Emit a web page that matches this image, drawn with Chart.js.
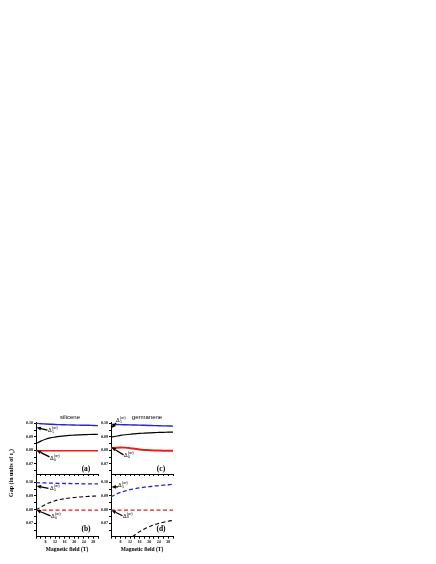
<!DOCTYPE html>
<html lang="en">
<head>
<meta charset="UTF-8" />
<title>Gap vs magnetic field</title>
<style>
  body { margin: 0; background: #fff; }
  #wrap { position: relative; width: 436px; height: 564px; overflow: hidden; }
  canvas { position: absolute; left: 0; top: 0; }
  .t { position: absolute; white-space: nowrap; transform: translate(-50%, -50%); color: #000; }
  .serif { font-family: "Liberation Serif", serif; font-weight: bold; }
  .sans { font-family: "Liberation Sans", Arial, sans-serif; }
  .dl { position: absolute; font-family: "Liberation Sans", sans-serif; font-size: 5.5px; line-height: 5.5px; white-space: nowrap; transform: translateY(-50%); }
  .dl .ss { display: inline-block; vertical-align: middle; font-size: 3.6px; line-height: 3.9px; margin-left: 0.3px; }
  .dl .ss span { display: block; }
</style>
</head>
<body>
<div id="wrap">
  <canvas id="pa" width="436" height="564"></canvas>
  <canvas id="pb" width="436" height="564"></canvas>
  <canvas id="pc" width="436" height="564"></canvas>
  <canvas id="pd" width="436" height="564"></canvas>

  <div class="t sans" style="left:70px;top:417px;font-size:6px">silicene</div>
  <div class="t sans" style="left:147px;top:417px;font-size:6px">germanene</div>

  <div class="t serif" style="left:12px;top:473px;font-size:6px;transform:translate(-50%,-50%) rotate(-90deg)">Gap (in units of &epsilon;<sub style="font-size:4px">c</sub>)</div>
  <div class="t serif" style="left:67px;top:548.5px;font-size:5.5px">Magnetic field (T)</div>
  <div class="t serif" style="left:142px;top:548.5px;font-size:5.5px">Magnetic field (T)</div>

  <div class="t serif" style="left:86px;top:468px;font-size:7.5px">(a)</div>
  <div class="t serif" style="left:161px;top:468px;font-size:7.5px">(c)</div>
  <div class="t serif" style="left:86px;top:528px;font-size:7.5px">(b)</div>
  <div class="t serif" style="left:161px;top:528px;font-size:7.5px">(d)</div>

  <div class="dl" style="left:48px;top:431px">&Delta;<span class="ss"><span>(&sigma;r)</span><span>1</span></span></div>
  <div class="dl" style="left:50px;top:459px">&Delta;<span class="ss"><span>(&sigma;r)</span><span>0</span></span></div>
  <div class="dl" style="left:116px;top:421px">&Delta;<span class="ss"><span>(&sigma;r)</span><span>1</span></span></div>
  <div class="dl" style="left:124px;top:456px">&Delta;<span class="ss"><span>(&sigma;r)</span><span>0</span></span></div>
  <div class="dl" style="left:50px;top:489px">&Delta;<span class="ss"><span>(&sigma;r)</span><span>1</span></span></div>
  <div class="dl" style="left:51px;top:517px">&Delta;<span class="ss"><span>(&sigma;r)</span><span>0</span></span></div>
  <div class="dl" style="left:118px;top:486px">&Delta;<span class="ss"><span>(&sigma;r)</span><span>1</span></span></div>
  <div class="dl" style="left:123px;top:516.5px">&Delta;<span class="ss"><span>(&sigma;r)</span><span>0</span></span></div>
</div>

<script src="https://cdn.jsdelivr.net/npm/chart.js"></script>
<script>
  // magnetic field (T)
  const field = [4, 6, 8, 10, 12, 14, 16, 18, 20, 22, 24, 26, 28, 30];
  const fieldTail = [13, 14, 16, 18, 20, 22, 24, 26, 28, 30];

  // (a) silicene, solid
  const siBlue = [0.1000, 0.0997, 0.0995, 0.0993, 0.0991, 0.0990, 0.0989, 0.0988, 0.0987, 0.0986, 0.0985, 0.0985, 0.0984, 0.0983];
  const siBlack = [0.0850, 0.0868, 0.0882, 0.0892, 0.0898, 0.0903, 0.0907, 0.0910, 0.0912, 0.0914, 0.0916, 0.0917, 0.0918, 0.0919];
  const siRed = [0.0797, 0.0797, 0.0797, 0.0797, 0.0797, 0.0797, 0.0797, 0.0797, 0.0797, 0.0797, 0.0797, 0.0797, 0.0797, 0.0797];

  // (b) silicene, dashed
  const siBlueD = [0.0997, 0.0996, 0.0995, 0.0994, 0.0993, 0.0992, 0.0991, 0.0991, 0.0990, 0.0990, 0.0989, 0.0989, 0.0988, 0.0988];
  const siBlackD = [0.0800, 0.0818, 0.0838, 0.0853, 0.0865, 0.0874, 0.0880, 0.0885, 0.0889, 0.0892, 0.0895, 0.0897, 0.0899, 0.0900];
  const siRedD = [0.0797, 0.0797, 0.0797, 0.0797, 0.0797, 0.0797, 0.0797, 0.0797, 0.0797, 0.0797, 0.0797, 0.0797, 0.0797, 0.0797];

  // (c) germanene, solid
  const geBlue = [0.0992, 0.0991, 0.0990, 0.0989, 0.0988, 0.0987, 0.0986, 0.0985, 0.0984, 0.0983, 0.0982, 0.0981, 0.0980, 0.0979];
  const geBlack = [0.0898, 0.0904, 0.0910, 0.0915, 0.0919, 0.0922, 0.0925, 0.0927, 0.0929, 0.0931, 0.0932, 0.0933, 0.0934, 0.0935];
  const geRed = [0.0816, 0.0819, 0.0821, 0.0820, 0.0816, 0.0811, 0.0806, 0.0803, 0.0801, 0.0799, 0.0798, 0.0797, 0.0796, 0.0796];

  // (d) germanene, dashed
  const geBlueD = [0.0893, 0.0912, 0.0926, 0.0937, 0.0946, 0.0953, 0.0959, 0.0964, 0.0968, 0.0972, 0.0976, 0.0979, 0.0982, 0.0985];
  const geRedD = [0.0797, 0.0797, 0.0797, 0.0797, 0.0797, 0.0797, 0.0797, 0.0797, 0.0797, 0.0797, 0.0797, 0.0797, 0.0797, 0.0797];
  const geBlackD = [0.0603, 0.0615, 0.0640, 0.0660, 0.0676, 0.0690, 0.0700, 0.0709, 0.0716, 0.0722];

  // gap levels the arrows point at
  const deltaOneLevels = [0.0968, 0.0965, 0.0973, 0.0966];  // a, c, b, d
  const deltaZeroLevels = [0.0800, 0.0822, 0.0798, 0.0796];

  const xTicks = [4, 6, 8, 10, 12, 14, 16, 18, 20, 22, 24, 26, 28, 30];
  const xLabels = [8, 12, 16, 20, 24, 28];
  const yTicks = [0.065, 0.07, 0.075, 0.08, 0.085, 0.09, 0.095, 0.10];
  const yLabels = [0.07, 0.08, 0.09, 0.10];

  const BLUE = "#2424d8";
  const RED = "#ee1c1c";
  const BLACK = "#000000";

  const arrowPlugin = {
    id: "arrows",
    afterDatasetsDraw(chart, args, opts) {
      const ctx = chart.ctx;
      const ys = chart.scales.y;
      const x0 = chart.chartArea.left + 0.5;
      (opts.marks || []).forEach((m) => {
        const hx = x0, hy = ys.getPixelForValue(m.value);
        const tx = hx + m.dx, ty = hy + m.dy;
        const ang = Math.atan2(hy - ty, hx - tx);
        const len = 4.5, w = 1.9;
        const bx = hx - len * Math.cos(ang), by = hy - len * Math.sin(ang);
        ctx.save();
        ctx.strokeStyle = "#000";
        ctx.fillStyle = "#000";
        ctx.lineWidth = 1.3;
        ctx.beginPath();
        ctx.moveTo(tx, ty);
        ctx.lineTo(bx, by);
        ctx.stroke();
        ctx.beginPath();
        ctx.moveTo(hx, hy);
        ctx.lineTo(bx + w * Math.sin(ang), by - w * Math.cos(ang));
        ctx.lineTo(bx - w * Math.sin(ang), by + w * Math.cos(ang));
        ctx.closePath();
        ctx.fill();
        ctx.restore();
      });
    },
  };

  function line(xs, ys, color, dashed, width) {
    return {
      data: xs.map((x, i) => ({ x: x, y: ys[i] })),
      borderColor: color,
      borderWidth: width || 1.2,
      borderDash: dashed ? [4, 2.5] : [],
      pointRadius: 0,
      fill: false,
      cubicInterpolationMode: "monotone",
    };
  }

  function makePanel(id, area, yMin, yMax, datasets, bottomRow, marks) {
    const yw = 13;
    const xh = bottomRow ? 9 : 2;
    new Chart(document.getElementById(id), {
      type: "line",
      data: { datasets: datasets },
      plugins: [arrowPlugin],
      options: {
        responsive: false,
        animation: false,
        layout: {
          padding: {
            left: area.left - yw,
            right: 436 - area.right,
            top: area.top,
            bottom: 564 - area.bottom - xh,
          },
        },
        plugins: {
          legend: { display: false },
          tooltip: { enabled: false },
          arrows: { marks: marks },
        },
        scales: {
          x: {
            type: "linear",
            min: 4,
            max: 30,
            afterBuildTicks: (s) => { s.ticks = xTicks.map((v) => ({ value: v })); },
            afterFit: (s) => { s.height = xh; },
            border: { color: "#000", width: 1 },
            grid: { drawOnChartArea: false, tickLength: 2, color: "#000" },
            ticks: {
              display: bottomRow,
              autoSkip: false,
              maxRotation: 0,
              padding: 0.5,
              color: "#000",
              font: { family: "Liberation Serif", size: 4, weight: "bold" },
              callback: (v) => (xLabels.includes(v) ? String(v) : ""),
            },
          },
          y: {
            min: yMin,
            max: yMax,
            afterBuildTicks: (s) => { s.ticks = yTicks.map((v) => ({ value: v })); },
            afterFit: (s) => { s.width = yw; },
            border: { color: "#000", width: 1 },
            grid: { drawOnChartArea: false, tickLength: 2, color: "#000" },
            ticks: {
              autoSkip: false,
              padding: 1,
              color: "#000",
              font: { family: "Liberation Serif", size: 4, weight: "bold" },
              callback: (v) => {
                const hit = yLabels.find((l) => Math.abs(l - v) < 1e-6);
                return hit !== undefined ? hit.toFixed(2) : "";
              },
            },
          },
        },
      },
    });
  }

  makePanel("pa", { left: 36, right: 98, top: 422.6, bottom: 474 }, 0.0625, 0.1005, [
    line(field, siBlue, BLUE, false, 1.4),
    line(field, siBlack, BLACK, false, 1.2),
    line(field, siRed, RED, false, 1.4),
  ], false, [
    { value: deltaOneLevels[0], dx: 11, dy: 2.5 },
    { value: deltaZeroLevels[0], dx: 13, dy: 6.5 },
  ]);

  makePanel("pc", { left: 111, right: 173, top: 422.6, bottom: 474 }, 0.0625, 0.1005, [
    line(field, geBlue, BLUE, false, 1.4),
    line(field, geBlack, BLACK, false, 1.2),
    line(field, geRed, RED, false, 2),
  ], false, [
    { value: deltaOneLevels[1], dx: 4.5, dy: -5 },
    { value: deltaZeroLevels[1], dx: 12, dy: 7.5 },
  ]);

  makePanel("pb", { left: 36, right: 98, top: 476.8, bottom: 536.7 }, 0.0603, 0.104, [
    line(field, siBlueD, BLUE, true, 1.3),
    line(field, siBlackD, BLACK, true, 1.1),
    line(field, siRedD, RED, true, 1.3),
  ], true, [
    { value: deltaOneLevels[2], dx: 12, dy: 2.5 },
    { value: deltaZeroLevels[2], dx: 14, dy: 6 },
  ]);

  makePanel("pd", { left: 111, right: 173, top: 476.8, bottom: 536.7 }, 0.0603, 0.104, [
    line(field, geBlueD, BLUE, true, 1.3),
    line(field, geRedD, RED, true, 1.3),
    line(fieldTail, geBlackD, BLACK, true, 1.1),
  ], true, [
    { value: deltaOneLevels[3], dx: 6.5, dy: 0 },
    { value: deltaZeroLevels[3], dx: 11, dy: 5.5 },
  ]);
</script>
</body>
</html>
